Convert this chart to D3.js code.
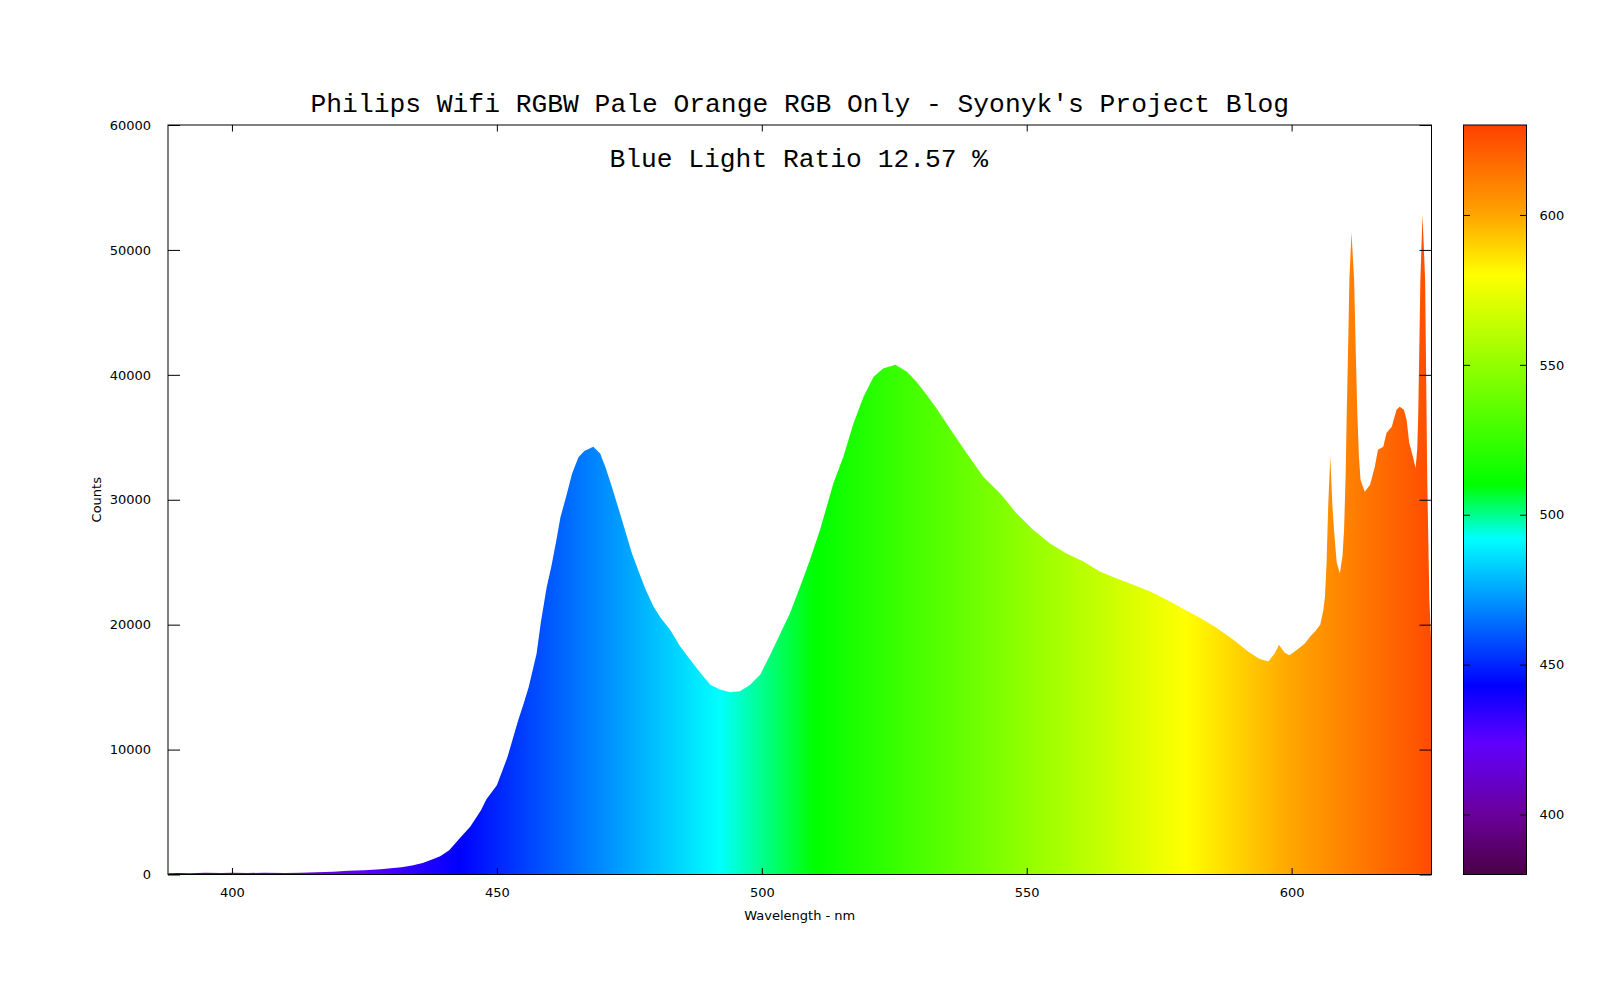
<!DOCTYPE html>
<html>
<head>
<meta charset="utf-8">
<script src="https://cdn.jsdelivr.net/npm/d3@7/dist/d3.min.js"></script>
<style>
  html, body { margin: 0; padding: 0; background: #fff; }
  svg { display: block; }
  .tick text { font-family: "DejaVu Sans", sans-serif; font-size: 13px; fill: #000; }
  .tick line { stroke: #000; stroke-width: 1; }
</style>
</head>
<body>
<svg id="chart" width="1600" height="1000"></svg>
<script>
// ---- data ----
const title = "Philips Wifi RGBW Pale Orange RGB Only - Syonyk's Project Blog";
const subtitle = "Blue Light Ratio 12.57 %";
const xLabel = "Wavelength - nm";
const yLabel = "Counts";

const wavelengths = [
  388, 390, 392, 395, 398, 400, 403, 406, 410, 413, 416, 419, 422, 425, 428, 430, 432, 434, 436, 438,
  439.3, 441, 443, 445, 447, 448, 450, 452, 454, 455, 456, 457.5, 458.3, 459.4, 460.3, 461.2, 462, 463.1, 464.2, 465.4,
  466.5, 468.2, 469.5, 470.5, 471.7, 473.6, 475.5, 477, 478, 479.5, 481, 482.7, 484.6, 486.5, 488.4, 490.3, 492.1, 494, 495.9, 497.8,
  499.7, 501.6, 503.5, 505.3, 507.2, 509.1, 511, 513.5, 515.4, 517.3, 519.2, 521.1, 522.9, 525.2, 527.4, 529.2, 531.1, 533, 535.5, 538.7,
  541.8, 545, 548.1, 551.2, 554.4, 557.5, 560.7, 563.8, 567, 570.1, 573.3, 576.4, 579.6, 582.7, 585.8, 589, 592.1, 594, 595.6, 596.8,
  597.6, 598.7, 599.6, 600.9, 602.5, 603.5, 604.5, 605.4, 606, 606.3, 606.6, 606.9, 607.3, 607.7, 608, 608.5, 609.1, 609.6, 609.9, 610.2,
  610.4, 610.7, 610.9, 611.3, 611.8, 612.1, 612.4, 612.7, 613, 613.8, 614.8, 615.7, 616.3, 617.3, 617.9, 618.9, 619.8, 620.4, 621.2, 621.7,
  622.2, 622.9, 623.4, 623.7, 623.9, 624.3, 624.7, 625.2, 625.6, 626.0, 626.4
];
const counts = [
  100, 120, 100, 150, 130, 150, 120, 140, 130, 150, 180, 220, 300, 350, 420, 500, 580, 720, 920, 1250,
  1464, 1950, 2900, 3850, 5150, 6000, 7150, 9400, 12300, 13600, 15000, 17700, 20200, 23000, 24700, 26700, 28600, 30300, 32100, 33400,
  33900, 34250, 33700, 32600, 31050, 28400, 25700, 24000, 22900, 21500, 20500, 19600, 18250, 17200, 16150, 15200, 14800, 14580, 14660, 15200,
  16000, 17600, 19300, 20900, 23000, 25200, 27600, 31300, 33450, 36100, 38250, 39850, 40500, 40800, 40250, 39450, 38400, 37300, 35700, 33700,
  31850, 30500, 28900, 27600, 26500, 25700, 25050, 24250, 23700, 23200, 22650, 22000, 21250, 20550, 19750, 18800, 17750, 17250, 17050, 17700,
  18400, 17750, 17550, 17950, 18500, 19050, 19500, 20000, 21200, 22250, 25000, 29500, 33450, 29500, 27600, 25000, 24100, 25500, 27600, 32000,
  36900, 43000, 47600, 51400, 47600, 42000, 36900, 33500, 31600, 30650, 31200, 32650, 34000, 34250, 35350, 35850, 37200, 37450, 37200, 36400,
  34550, 33450, 32550, 34000, 36900, 47600, 52800, 47600, 31600, 22000, 18000
];

const yTicks = [0, 10000, 20000, 30000, 40000, 50000, 60000];
const xTicks = [400, 450, 500, 550, 600];
const cbTicks = [400, 450, 500, 550, 600];

// colour palette (wavelength -> colour)
const paletteNm = [380, 400, 424, 443, 492, 510, 580, 600, 630];
const paletteColors = ["#4b0046", "#6a009a", "#6000ff", "#0000ff", "#00ffff", "#00ff00", "#ffff00", "#ffa500", "#ff4000"];

// ---- layout ----
const svg = d3.select("#chart");
const L = 168, R = 1431.5, T = 125, B = 874.5;
const cbL = 1463.5, cbR = 1526.5;

const x = d3.scaleLinear().domain([387.93, 626.4]).range([L, R]);
const y = d3.scaleLinear().domain([0, 60000]).range([B, T]);
const cb = d3.scaleLinear().domain([380, 630]).range([B, T]);

const data = wavelengths.map((w, i) => ({ w, c: counts[i] }));

const defs = svg.append("defs");
const gradX = defs.append("linearGradient")
  .attr("id", "specX").attr("gradientUnits", "userSpaceOnUse")
  .attr("x1", x(380)).attr("x2", x(630)).attr("y1", 0).attr("y2", 0);
paletteNm.forEach((nm, i) => gradX.append("stop")
  .attr("offset", (nm - 380) / 250).attr("stop-color", paletteColors[i]));

const gradY = defs.append("linearGradient")
  .attr("id", "specY").attr("gradientUnits", "userSpaceOnUse")
  .attr("x1", 0).attr("x2", 0).attr("y1", cb(380)).attr("y2", cb(630));
paletteNm.forEach((nm, i) => gradY.append("stop")
  .attr("offset", (nm - 380) / 250).attr("stop-color", paletteColors[i]));

defs.append("clipPath").attr("id", "plotClip")
  .append("rect").attr("x", L).attr("y", T).attr("width", R - L).attr("height", B - T);

// spectrum
const area = d3.area().x(d => x(d.w)).y0(y(0)).y1(d => y(d.c));
svg.append("path").datum(data)
  .attr("clip-path", "url(#plotClip)")
  .attr("d", area)
  .attr("fill", "url(#specX)");

// axes
const gB = svg.append("g").attr("transform", `translate(0,${B})`)
  .call(d3.axisBottom(x).tickValues(xTicks).tickSize(-6.5).tickPadding(13).tickFormat(d3.format("d")));
const gT = svg.append("g").attr("transform", `translate(0,${T})`)
  .call(d3.axisTop(x).tickValues(xTicks).tickSize(-6.5).tickFormat(""));
const gL = svg.append("g").attr("transform", `translate(${L},0)`)
  .call(d3.axisLeft(y).tickValues(yTicks).tickSize(-12).tickPadding(17).tickFormat(d3.format("d")));
const gR = svg.append("g").attr("transform", `translate(${R},0)`)
  .call(d3.axisRight(y).tickValues(yTicks).tickSize(-12).tickFormat(""));
[gB, gT, gL, gR].forEach(g => g.select(".domain").remove());

svg.append("rect").attr("x", L).attr("y", T).attr("width", R - L).attr("height", B - T)
  .attr("fill", "none").attr("stroke", "#000").attr("stroke-width", 1);

// colour box
svg.append("rect").attr("x", cbL).attr("y", T).attr("width", cbR - cbL).attr("height", B - T)
  .attr("fill", "url(#specY)").attr("stroke", "#000").attr("stroke-width", 1);
const gCbR = svg.append("g").attr("transform", `translate(${cbR},0)`)
  .call(d3.axisRight(cb).tickValues(cbTicks).tickSize(-6.5).tickPadding(13).tickFormat(d3.format("d")));
const gCbL = svg.append("g").attr("transform", `translate(${cbL},0)`)
  .call(d3.axisLeft(cb).tickValues(cbTicks).tickSize(-6.5).tickFormat(""));
[gCbR, gCbL].forEach(g => g.select(".domain").remove());

// texts
svg.append("text").attr("x", (L + R) / 2).attr("y", 112)
  .attr("text-anchor", "middle")
  .style("font-family", "'Liberation Mono', 'Courier New', monospace")
  .style("font-size", "26.3px").attr("fill", "#000")
  .text(title);
svg.append("text").attr("x", (L + R) / 2 - 1).attr("y", 167)
  .attr("text-anchor", "middle")
  .style("font-family", "'Liberation Mono', 'Courier New', monospace")
  .style("font-size", "26.3px").attr("fill", "#000")
  .text(subtitle);
svg.append("text").attr("x", (L + R) / 2).attr("y", 920)
  .attr("text-anchor", "middle")
  .style("font-family", "'DejaVu Sans', sans-serif").style("font-size", "13px").attr("fill", "#000")
  .text(xLabel);
svg.append("text").attr("transform", `translate(101,${(T + B) / 2}) rotate(-90)`)
  .attr("text-anchor", "middle")
  .style("font-family", "'DejaVu Sans', sans-serif").style("font-size", "13px").attr("fill", "#000")
  .text(yLabel);
</script>
</body>
</html>
